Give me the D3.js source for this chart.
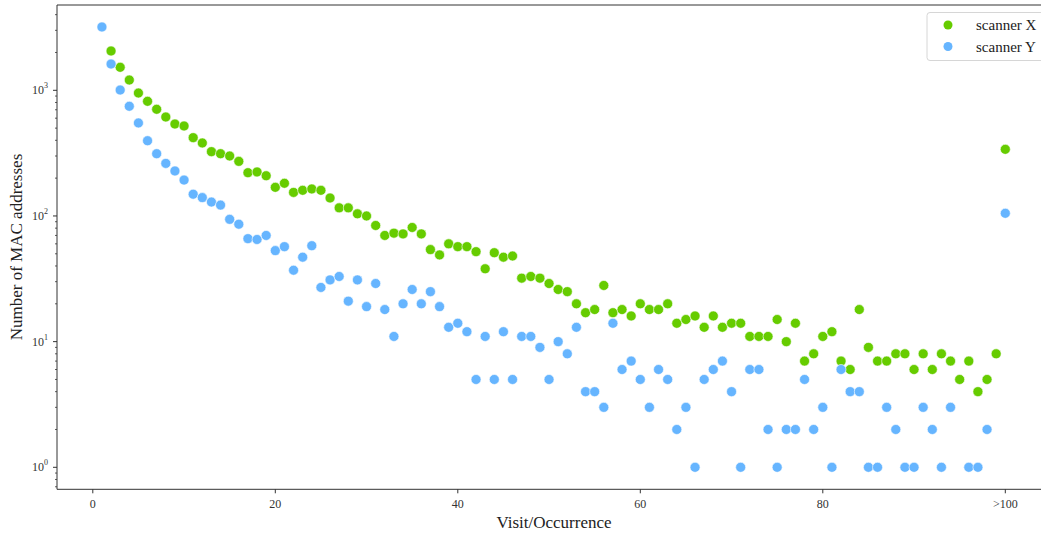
<!DOCTYPE html>
<html>
<head>
<meta charset="utf-8">
<script src="https://cdn.jsdelivr.net/npm/d3@7"></script>
<style>
  html, body { margin: 0; padding: 0; background: #fff; }
  svg { display: block; font-family: "Liberation Serif", "Times New Roman", serif; }
</style>
</head>
<body>
<svg id="chart" width="1041" height="534"></svg>
<script>
const visits = d3.range(1, 101);
const xTickValues = [0, 20, 40, 60, 80, 100];
const xTickLabels = ["0", "20", "40", "60", "80", ">100"];
const yTickExponents = [0, 1, 2, 3];
const seriesNames = ["scanner X", "scanner Y"];

const scannerX = [null,2055,1524,1207,951,817,706,613,539,520,
  420,381,325,313,300,272,221,224,209,169,
  182,154,160,164,160,139,116,116,104,100,
  84,70,73,72,81,72,54,49,60,57,
  57,52,38,51,47,48,32,33,32,29,
  26,25,20,17,18,28,17,18,16,20,
  18,18,20,14,15,16,13,16,13,14,
  14,11,11,11,15,10,14,7,8,11,
  12,7,6,18,9,7,7,8,8,6,
  8,6,8,7,5,7,4,5,8,339];

const scannerY = [3190,1618,1005,746,550,397,313,262,228,193,
  149,140,129,122,94,86,66,65,70,53,
  57,37,47,58,27,31,33,21,31,19,
  29,18,11,20,26,20,25,19,13,14,
  12,5,11,5,12,5,11,11,9,5,
  10,8,13,4,4,3,14,6,7,5,
  3,6,5,2,3,1,5,6,7,4,
  1,6,6,2,1,2,2,5,2,3,
  1,6,4,4,1,1,3,2,1,1,
  3,2,1,3,null,1,1,2,null,105];

const colors = ["#66cc00", "#66b5ff"];

const svg = d3.select("#chart");
const pLeft = 57, pRight = 1041, pTop = 5, pBottom = 489.3;

const x = d3.scaleLinear().domain([0, 100]).range([92.8, 1005.3]);
const y = d3.scaleLog().domain([1, 1000]).range([467.3, 90.3]);
const yMin = y.invert(pBottom), yMax = y.invert(pTop);

const axisColor = "#333";

// frame lines (left, top, bottom)
svg.append("line").attr("x1", pLeft).attr("x2", pLeft).attr("y1", pTop).attr("y2", pBottom)
  .attr("stroke", axisColor).attr("stroke-width", 1);
svg.append("line").attr("x1", pLeft).attr("x2", pRight).attr("y1", pTop).attr("y2", pTop)
  .attr("stroke", axisColor).attr("stroke-width", 1);
svg.append("line").attr("x1", pLeft).attr("x2", pRight).attr("y1", pBottom).attr("y2", pBottom)
  .attr("stroke", axisColor).attr("stroke-width", 1);

// x ticks
const xg = svg.append("g");
xTickValues.forEach((v, i) => {
  xg.append("line").attr("x1", x(v)).attr("x2", x(v)).attr("y1", pBottom).attr("y2", pBottom + 4)
    .attr("stroke", axisColor).attr("stroke-width", 1);
  xg.append("text").attr("x", x(v)).attr("y", pBottom + 19).attr("text-anchor", "middle")
    .attr("font-size", 12).attr("fill", "#333").text(xTickLabels[i]);
});

// y major ticks
const yg = svg.append("g");
yTickExponents.forEach(e => {
  const v = Math.pow(10, e);
  const yy = y(v);
  yg.append("line").attr("x1", pLeft - 4).attr("x2", pLeft).attr("y1", yy).attr("y2", yy)
    .attr("stroke", axisColor).attr("stroke-width", 1);
  const t = yg.append("text").attr("x", pLeft - 9).attr("y", yy + 4).attr("text-anchor", "end")
    .attr("font-size", 12).attr("fill", "#333");
  t.append("tspan").text("10");
  t.append("tspan").attr("dy", -6).attr("font-size", 8).text(String(e));
});
// y minor ticks
for (let e = -1; e <= 3; e++) {
  for (let m = 2; m <= 9; m++) {
    const v = m * Math.pow(10, e);
    if (v < yMin || v > yMax) continue;
    const yy = y(v);
    yg.append("line").attr("x1", pLeft - 2).attr("x2", pLeft).attr("y1", yy).attr("y2", yy)
      .attr("stroke", axisColor).attr("stroke-width", 0.8);
  }
}

// axis labels
svg.append("text").attr("x", 554).attr("y", 528).attr("text-anchor", "middle")
  .attr("font-size", 17).attr("fill", "#222").text("Visit/Occurrence");
svg.append("text").attr("transform", "translate(22,247) rotate(-90)").attr("text-anchor", "middle")
  .attr("font-size", 17).attr("fill", "#222").text("Number of MAC addresses");

// points
const allSeries = [scannerX, scannerY];
allSeries.forEach((vals, si) => {
  svg.append("g").selectAll("circle")
    .data(visits.map((v, i) => ({ v, c: vals[i] })).filter(d => d.c != null))
    .join("circle")
    .attr("cx", d => x(d.v))
    .attr("cy", d => y(d.c))
    .attr("r", 5)
    .attr("fill", colors[si])
    .attr("stroke", "#fff")
    .attr("stroke-width", 0.6);
});

// legend
const lg = svg.append("g");
lg.append("rect").attr("x", 927).attr("y", 12.5).attr("width", 130).attr("height", 48)
  .attr("rx", 3).attr("fill", "#fff").attr("fill-opacity", 0.85)
  .attr("stroke", "#d6d6d6").attr("stroke-width", 1);
seriesNames.forEach((n, i) => {
  const yy = 25 + i * 21.5;
  lg.append("circle").attr("cx", 948).attr("cy", yy).attr("r", 4.5).attr("fill", colors[i]);
  lg.append("text").attr("x", 976).attr("y", yy + 5).attr("font-size", 15).attr("fill", "#222").text(n);
});
</script>
</body>
</html>
